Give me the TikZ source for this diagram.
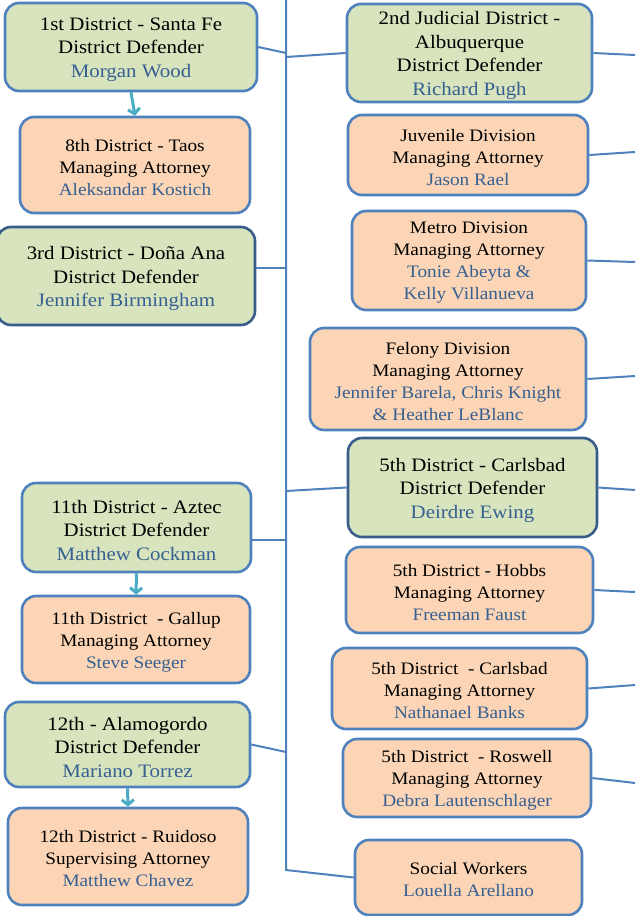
\documentclass[tikz,border=0pt]{standalone}
\usepackage{fontspec}
\setmainfont{Liberation Serif}[FakeStretch=1.1]
\usetikzlibrary{arrows.meta}
\definecolor{gfill}{RGB}{215,228,189}
\definecolor{ofill}{RGB}{251,213,181}
\definecolor{bord}{RGB}{79,129,189}
\definecolor{dbord}{RGB}{56,93,138}
\definecolor{nmcol}{RGB}{55,96,146}
\definecolor{arrteal}{RGB}{75,172,198}
\newcommand{\nmt}[1]{\textcolor{nmcol}{#1}}
% #1 style, #2 name, #3 position, #4 width, #5 height, #6 text
\newcommand{\orgbox}[6]{%
  \node[#1, minimum width=#4pt, minimum height=#5pt] (#2) at (#3) {};
  \node[#1 text] (#2-t) at ([yshift=-2.5pt]#2.center) {#6};}
\begin{document}
\begin{tikzpicture}[x=1pt,y=-1pt,
  box/.style={rounded corners=14pt, line width=2.6pt, draw=bord, inner sep=0pt},
  gbox/.style={box, fill=gfill},
  obox/.style={box, fill=ofill},
  dbox/.style={gbox, draw=dbord},
  gbox text/.style={align=center, inner sep=0pt, font=\fontsize{19}{23.5}\selectfont},
  dbox text/.style={gbox text},
  obox text/.style={align=center, inner sep=0pt, font=\fontsize{17.5}{22}\selectfont},
  link/.style={draw=bord, line width=2pt},
  down/.style={draw=arrteal, line width=3pt, -{Straight Barb[length=5pt,width=12pt]}}]
\useasboundingbox (0,0) rectangle (635,916);
% trunk coordinates
\coordinate (ttop) at (286,0);
\coordinate (tsf) at (286,53);
\coordinate (tabq) at (286,57);
\coordinate (tdona) at (286,268);
\coordinate (tc5) at (286,491);
\coordinate (taz) at (286,540);
\coordinate (tal) at (286,752);
\coordinate (tbot) at (286,870);
% right edge coordinates
\coordinate (rabq) at (635,55);
\coordinate (rjuv) at (635,152);
\coordinate (rmet) at (635,262);
\coordinate (rfel) at (635,376);
\coordinate (rc5) at (635,490);
\coordinate (rhob) at (635,592);
\coordinate (rcm) at (635,685);
\coordinate (rros) at (635,783);
% left column
\orgbox{gbox}{sf}{131,47}{252}{88}
  {1st District - Santa Fe\\District Defender\\\nmt{Morgan Wood}}
\orgbox{obox}{taos}{135,165}{230}{96}
  {8th District - Taos\\Managing Attorney\\\nmt{Aleksandar Kostich}}
\orgbox{dbox}{dona}{126,276}{258}{98}
  {3rd District - Doña Ana\\District Defender\\\nmt{Jennifer Birmingham}}
\orgbox{gbox}{aztec}{136.5,527.5}{229}{89}
  {11th District - Aztec\\District Defender\\\nmt{Matthew Cockman}}
\orgbox{obox}{gallup}{136,639.5}{228}{87}
  {11th District~ - Gallup\\Managing Attorney\\\nmt{Steve Seeger}}
\orgbox{gbox}{alamo}{127.5,744.5}{245}{85}
  {12th - Alamogordo\\District Defender\\\nmt{Mariano Torrez}}
\orgbox{obox}{ruid}{128,856.5}{240}{97}
  {12th District - Ruidoso\\Supervising Attorney\\\nmt{Matthew Chavez}}
% right column
\orgbox{gbox}{abq}{469.5,53}{245}{98}
  {2nd Judicial District -\\Albuquerque\\District Defender\\\nmt{Richard Pugh}}
\orgbox{obox}{juv}{468,155}{240}{80}
  {Juvenile Division\\Managing Attorney\\\nmt{Jason Rael}}
\orgbox{obox}{metro}{469,260.5}{234}{99}
  {Metro Division\\Managing Attorney\\\nmt{Tonie Abeyta \&}\\\nmt{Kelly Villanueva}}
\orgbox{obox}{felony}{448,379}{276}{102}
  {Felony Division\\Managing Attorney\\\nmt{Jennifer Barela, Chris Knight}\\\nmt{\& Heather LeBlanc}}
\orgbox{dbox}{c5}{472.5,487.5}{249}{99}
  {5th District - Carlsbad\\District Defender\\\nmt{Deirdre Ewing}}
\orgbox{obox}{hobbs}{469.5,590}{247}{86}
  {5th District - Hobbs\\Managing Attorney\\\nmt{Freeman Faust}}
\orgbox{obox}{cm}{459.5,688.5}{255}{81}
  {5th District~ - Carlsbad\\Managing Attorney\\\nmt{Nathanael Banks}}
\orgbox{obox}{ros}{467,778}{248}{78}
  {5th District~ - Roswell\\Managing Attorney\\\nmt{Debra Lautenschlager}}
\orgbox{obox}{social}{468.5,877.5}{227}{75}
  {Social Workers\\\nmt{Louella Arellano}}
% connectors
\draw[link] (ttop) -- (tbot) -- (social.west);
\draw[link] (sf.east) -- (tsf);
\draw[link] (tabq) -- (abq.west);
\draw[link] (dona.east |- tdona) -- (tdona);
\draw[link] (tc5) -- (c5.west);
\draw[link] (aztec.east |- taz) -- (taz);
\draw[link] (alamo.east) -- (tal);
\draw[link] (abq.east) -- (rabq);
\draw[link] (juv.east) -- (rjuv);
\draw[link] (metro.east) -- (rmet);
\draw[link] (felony.east) -- (rfel);
\draw[link] (c5.east) -- (rc5);
\draw[link] (hobbs.east) -- (rhob);
\draw[link] (cm.east) -- (rcm);
\draw[link] (ros.east) -- (rros);
\draw[down] (sf.south) -- (taos.north);
\draw[down] (aztec.south) -- (gallup.north);
\draw[down] (alamo.south) -- (ruid.north);
\end{tikzpicture}
\end{document}
